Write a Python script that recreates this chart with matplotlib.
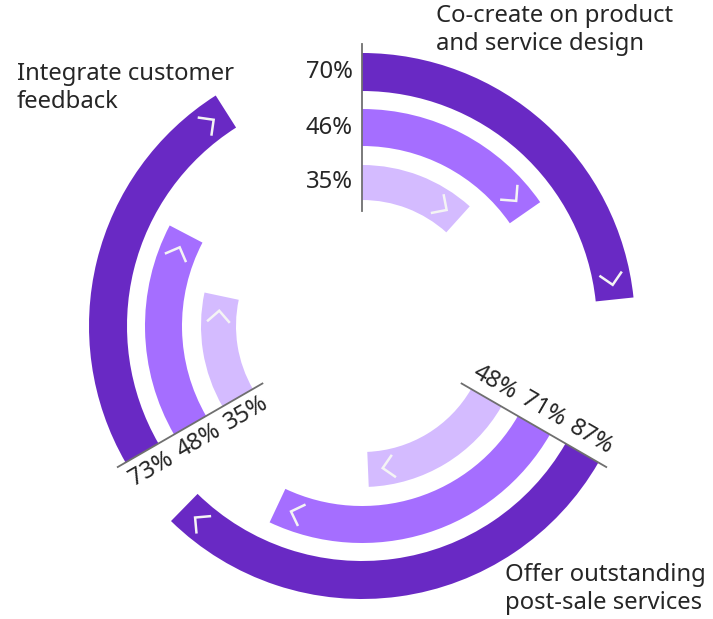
import numpy as np
import matplotlib.pyplot as plt
from matplotlib.patches import Wedge

plt.rcParams['font.family'] = ['Noto Sans', 'DejaVu Sans']

W, H = 713, 619

# three goals, each owns a 120 degree sector, arcs run clockwise from the baseline
titles = ["Co-create on product\nand service design",
          "Offer outstanding\npost-sale services",
          "Integrate customer\nfeedback"]
start_angles = [90, -30, 210]
outer_vals = [70, 87, 73]
middle_vals = [46, 71, 48]
inner_vals = [35, 48, 35]

colors = ["#6929c4", "#a56eff", "#d4bbff"]
radii = [(235, 273), (180, 217), (126, 161)]
cx, cy = 362, H - 326
FS = 17.2
TXT = "#262626"

fig = plt.figure(figsize=(W / 100, H / 100), dpi=100)
ax = fig.add_axes([0, 0, 1, 1])
ax.set_xlim(0, W)
ax.set_ylim(0, H)
ax.axis('off')


def chevron(theta_deg, r, size=21):
    th = np.radians(theta_deg)
    pos = np.array([cx + r * np.cos(th), cy + r * np.sin(th)])
    t = np.array([np.sin(th), -np.cos(th)])  # clockwise tangent
    n = np.array([np.cos(th), np.sin(th)])
    tip = pos + t * size * 0.25
    a1 = tip - t * size * 0.5 + n * size * 0.5
    a2 = tip - t * size * 0.5 - n * size * 0.5
    ax.plot([a1[0], tip[0], a2[0]], [a1[1], tip[1], a2[1]],
            color="#f4f4f4", lw=1.8, solid_joinstyle='miter', zorder=5)


for g in range(3):
    s = start_angles[g]
    vals = [outer_vals[g], middle_vals[g], inner_vals[g]]
    for k in range(3):
        r0, r1 = radii[k]
        end = s - vals[k] / 100 * 120
        ax.add_patch(Wedge((cx, cy), r1, end, s, width=r1 - r0,
                           facecolor=colors[k], edgecolor='none'))
        rm = (r0 + r1) / 2
        chevron(end + np.degrees(20 / rm), rm)

    # baseline
    th = np.radians(s)
    ax.plot([cx + 115 * np.cos(th), cx + 282 * np.cos(th)],
            [cy + 115 * np.sin(th), cy + 282 * np.sin(th)],
            color="#6f6f6f", lw=1.3, zorder=4)

    # value labels
    for k in range(3):
        rm = (radii[k][0] + radii[k][1]) / 2
        lab = f"{vals[k]}%"
        if s == 90:
            ax.text(cx - 9, cy + rm, lab, ha='right', va='center',
                    fontsize=FS, color=TXT)
        else:
            rot = s if s < 90 else s - 180
            perp = np.radians(s + 90)
            px = cx + rm * np.cos(th) + 18 * np.cos(perp)
            py = cy + rm * np.sin(th) + 18 * np.sin(perp)
            ax.text(px, py, lab, ha='center', va='center', rotation=rot,
                    rotation_mode='anchor', fontsize=FS, color=TXT)

ax.text(436, H - 4, titles[0], ha='left', va='top', fontsize=FS,
        color=TXT, linespacing=1.22)
ax.text(505, H - 563, titles[1], ha='left', va='top', fontsize=FS,
        color=TXT, linespacing=1.22)
ax.text(17, H - 62, titles[2], ha='left', va='top', fontsize=FS,
        color=TXT, linespacing=1.22)

fig.savefig("out.png", dpi=100)
